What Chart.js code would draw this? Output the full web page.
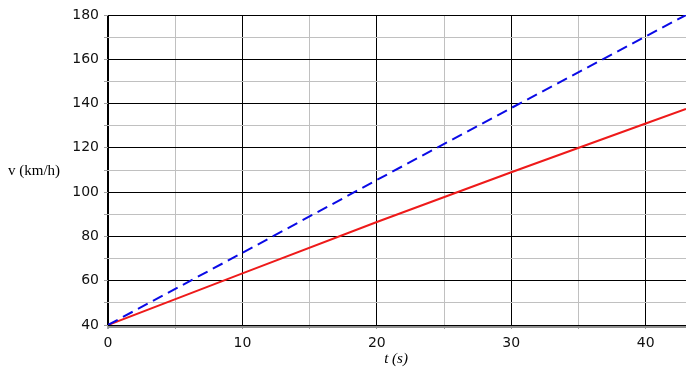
<!DOCTYPE html>
<html>
<head>
<meta charset="utf-8">
<script src="https://cdn.jsdelivr.net/npm/chart.js@4"></script>
<style>
  html, body { margin: 0; padding: 0; background: #fff; }
  #wrap { width: 694px; height: 371px; }
</style>
</head>
<body>
<div id="wrap"><canvas id="grafico" width="694" height="371"></canvas></div>
<script>
// datos
const tiempo = [0, 10, 20, 30, 40, 43];
const velAzul = [40, 72.6, 105.5, 138, 170.3, 180];
const velRoja = [40, 63.3, 86.5, 109, 131, 137.6];
const tituloX = "t (s)";
const tituloY = "v (km/h)";

let ctx = document.getElementById("grafico").getContext('2d');

function puntos(ys) {
  return tiempo.map((t, i) => ({ x: t, y: ys[i] }));
}

// titulos de ejes y linea gris inferior
const extras = {
  id: 'extras',
  afterDraw(chart) {
    const c = chart.ctx;
    const a = chart.chartArea;
    c.save();
    c.strokeStyle = '#909090';
    c.lineWidth = 2;
    c.beginPath();
    c.moveTo(a.left, a.bottom + 2);
    c.lineTo(a.right, a.bottom + 2);
    c.stroke();
    c.fillStyle = '#000';
    c.font = '15px "Liberation Serif"';
    c.textBaseline = 'middle';
    c.textAlign = 'left';
    c.fillText(tituloY, 8, 171);
    c.font = 'italic 15px "Liberation Serif"';
    c.textAlign = 'center';
    c.fillText(tituloX, (a.left + a.right) / 2 - 1, 359);
    c.restore();
  }
};

let chart = new Chart(ctx, {
  type: 'line',
  data: {
    datasets: [{
      data: puntos(velAzul),
      borderColor: '#0a0ae6',
      borderWidth: 2,
      borderDash: [11, 6],
      pointRadius: 0,
      fill: false,
      tension: 0
    }, {
      data: puntos(velRoja),
      borderColor: '#ee1a1a',
      borderWidth: 2,
      pointRadius: 0,
      fill: false,
      tension: 0
    }]
  },
  options: {
    responsive: false,
    animation: false,
    layout: { padding: { top: 15, right: 8, left: 0, bottom: 0 } },
    plugins: {
      legend: { display: false },
      tooltip: { enabled: false }
    },
    scales: {
      x: {
        type: 'linear',
        min: 0,
        max: 43,
        afterFit: s => { s.height = 46; },
        border: { display: false },
        grid: {
          color: c => (c.tick.value % 10 === 0 ? '#000' : '#c0c0c0'),
          lineWidth: c => (c.tick.value === 0 ? 2 : 1),
          tickColor: '#a0a0a0',
          tickLength: 4
        },
        ticks: {
          stepSize: 5,
          includeBounds: false,
          maxRotation: 0,
          autoSkip: false,
          padding: 6,
          color: '#111',
          font: { family: 'DejaVu Sans', size: 14 },
          callback: v => (v % 10 === 0 ? v : '')
        }
      },
      y: {
        min: 40,
        max: 180,
        afterFit: s => { s.width = 108; },
        border: { display: false },
        grid: {
          color: c => (c.tick.value % 20 === 0 ? '#000' : '#c0c0c0'),
          tickColor: '#a0a0a0',
          tickLength: 4
        },
        ticks: {
          stepSize: 10,
          autoSkip: false,
          padding: 5,
          color: '#111',
          font: { family: 'DejaVu Sans', size: 14 },
          callback: v => (v % 20 === 0 ? v : '')
        }
      }
    }
  },
  plugins: [extras]
});
</script>
</body>
</html>
